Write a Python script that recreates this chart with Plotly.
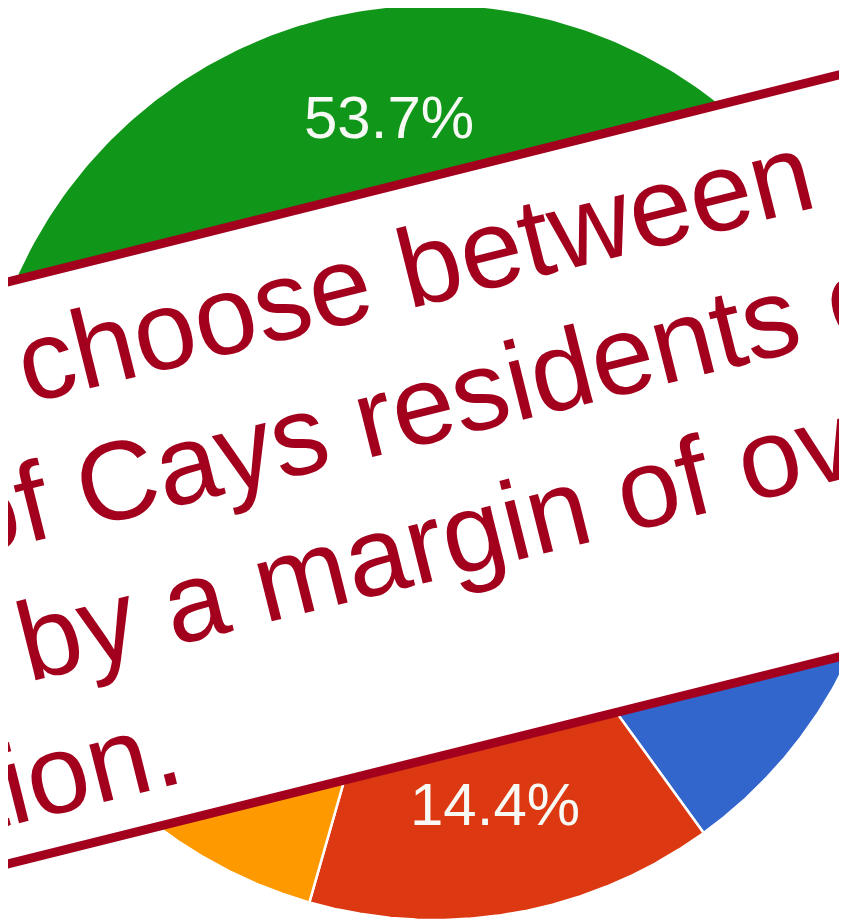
import math
import numpy as np
import plotly.graph_objects as go

W, H = 847, 924
OFFSET = 8  # default page margin in front of the plot div

# poll result, slices in clockwise order starting from the blue one
options = ["Option 1", "Option 2", "Option 3", "Option 4"]
shares = [15.3, 14.4, 16.6, 53.7]
colors = ["#3366CC", "#DC3912", "#FF9900", "#109618"]
label_visible = [False, True, False, True]
start_angle = 89

# banner text lines (cut off by the page edges)
banner_lines = ["choose between 2", "of Cays residents chose", "by a margin of over", "tion."]
line_shift = [0, -97.4, -66.3, -148.5]

RED = "#A3001E"
ANGLE = 14
FONT = 112
CX, CY, R = 435, 462, 458

ARIAL = {" ": 278, ".": 278, "2": 556, "C": 722, "a": 556, "b": 556, "c": 500,
         "d": 556, "e": 556, "f": 278, "g": 556, "h": 556, "i": 222, "m": 833,
         "n": 556, "o": 556, "r": 333, "s": 500, "t": 278, "v": 500, "w": 722, "y": 500}


def text_width(s, size):
    return sum(ARIAL.get(c, 556) for c in s) / 1000 * size


def to_paper(x, y):
    return (x - OFFSET) / W, 1 - (y - OFFSET) / H


fig = go.Figure()

# pie slices drawn as filled wedges on pixel-scaled axes
cum = 0
annotations = []
for name, share, color, show in zip(options, shares, colors, label_visible):
    a0 = math.radians(start_angle + cum * 3.6)
    a1 = math.radians(start_angle + (cum + share) * 3.6)
    ang = np.linspace(a0, a1, 240)
    xs = np.concatenate([[CX], CX + R * np.sin(ang), [CX]])
    ys = np.concatenate([[CY], CY - R * np.cos(ang), [CY]])
    fig.add_trace(go.Scatter(
        x=xs, y=ys, name=name, mode="lines", fill="toself", fillcolor=color,
        line=dict(color="white", width=2.5), hoverinfo="skip",
    ))
    mid = math.radians(start_angle + (cum + share / 2) * 3.6)
    cum += share
    if show:
        x, y = to_paper(CX + 0.76 * R * math.sin(mid), CY - 0.76 * R * math.cos(mid))
        annotations.append(dict(
            x=x, y=y, xref="paper", yref="paper", showarrow=False,
            text=f"{share:.1f}%", xanchor="center", yanchor="middle",
            font=dict(family="Liberation Sans, Arial", size=60, color="#F7FAF4"),
        ))

# rotated banner
t = math.tan(math.radians(ANGLE))
top0, bot0 = 284, 866
xl, xr = -80, W + 80
corners = [(xl, top0 - t * xl), (xr, top0 - t * xr), (xr, bot0 - t * xr), (xl, bot0 - t * xl)]
path = "M " + " L ".join(f"{a:.1f},{b:.1f}" for a, b in corners) + " Z"
shapes = [dict(type="path", path=path, xref="x", yref="y",
               fillcolor="white", line=dict(color=RED, width=9), layer="above")]

u = (math.cos(math.radians(ANGLE)), -math.sin(math.radians(ANGLE)))
n = (-math.sin(math.radians(ANGLE)), -math.cos(math.radians(ANGLE)))
p1 = (28, 404)
spacing = 135
for k, (line, shift) in enumerate(zip(banner_lines, line_shift)):
    along = shift + text_width(line, FONT) / 2
    px = p1[0] - k * spacing * n[0] + along * u[0] + 0.3465 * FONT * n[0]
    py = p1[1] - k * spacing * n[1] + along * u[1] + 0.3465 * FONT * n[1]
    x, y = to_paper(px, py)
    annotations.append(dict(
        x=x, y=y, xref="paper", yref="paper", showarrow=False,
        text=line, textangle=-ANGLE, xanchor="center", yanchor="middle",
        font=dict(family="Liberation Sans, Arial", size=FONT, color=RED),
    ))

fig.update_layout(
    width=W, height=H,
    margin=dict(l=0, r=0, t=0, b=0),
    paper_bgcolor="white",
    plot_bgcolor="white",
    showlegend=False,
    xaxis=dict(range=[OFFSET, OFFSET + W], visible=False, fixedrange=True),
    yaxis=dict(range=[OFFSET + H, OFFSET], visible=False, fixedrange=True),
    shapes=shapes,
    annotations=annotations,
)

fig.write_html("out.html")
